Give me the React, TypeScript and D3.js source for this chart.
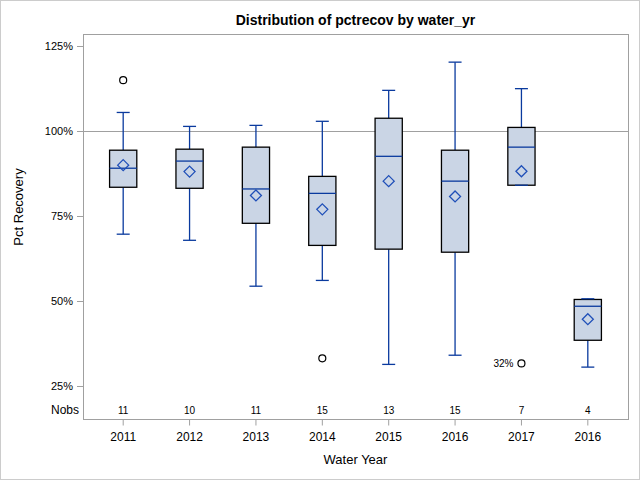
import * as React from "react";
import * as d3 from "d3";

// one entry per box (values in percent)
const yearLabels: string[] = ["2011", "2012", "2013", "2014", "2015", "2016", "2017", "2016"];
const nobs: number[] = [11, 10, 11, 15, 13, 15, 7, 4];
const whiskerLow: number[] = [69.8, 68.0, 54.5, 56.2, 31.5, 34.2, 84.2, 30.7];
const q1: number[] = [83.6, 83.3, 73.0, 66.5, 65.4, 64.5, 84.2, 38.6];
const median: number[] = [89.2, 91.3, 83.1, 81.8, 92.7, 85.4, 95.4, 48.6];
const q3: number[] = [94.5, 94.8, 95.4, 86.8, 103.9, 94.5, 101.2, 50.6];
const whiskerHigh: number[] = [105.6, 101.5, 101.8, 103.0, 112.1, 120.4, 112.6, 50.8];
const means: number[] = [90.1, 88.2, 81.2, 77.1, 85.4, 80.9, 88.3, 44.8];

const outlierIndex: number[] = [0, 3, 6];
const outlierValue: number[] = [115.1, 33.3, 31.8];
const outlierLabel: string[] = ["", "", "32%"];

const yTicks: number[] = [25, 50, 75, 100, 125];
const refValue: number = 100;

const W: number = 640;
const H: number = 480;
const frame = { left: 83, top: 34, right: 628, bottom: 419 };
const font: string = "'Liberation Sans', Arial, sans-serif";
const boxFill: string = "#cad5e5";
const blue: string = "#0a3a9e";
const grey: string = "#a0a0a0";

export default function App(): JSX.Element {
    const x = d3.scaleBand<number>()
        .domain(d3.range(yearLabels.length))
        .range([frame.left + 7, frame.right - 7]);
    const y = d3.scaleLinear()
        .domain([25, 125])
        .range([386.5, 46.5]);

    const cx = (i: number): number => (x(i) as number) + x.bandwidth() / 2;
    const boxW: number = x.bandwidth() * 0.41;
    const capW: number = 13;
    const dm: number = 5.5;

    return (
        <svg width={W} height={H} style={{ position: "absolute", left: 0, top: 0 }} fontFamily={font}>
            <rect x={0} y={0} width={W} height={H} fill="white" />
            <rect x={0.5} y={0.5} width={W - 1} height={H - 1} fill="none" stroke="#cccccc" />
            <text x={(frame.left + frame.right) / 2} y={20} dy="0.35em" textAnchor="middle" fontSize={14} fontWeight="bold">
                Distribution of pctrecov by water_yr
            </text>

            {/* y axis */}
            {yTicks.map((t) => (
                <g key={t}>
                    <line x1={frame.left - 6} x2={frame.left} y1={y(t)} y2={y(t)} stroke={grey} />
                    <text x={frame.left - 10} y={y(t)} dy="0.35em" textAnchor="end" fontSize={11}>
                        {`${t}%`}
                    </text>
                </g>
            ))}
            <text transform={`translate(23, 207) rotate(-90)`} textAnchor="middle" fontSize={13}>
                Pct Recovery
            </text>

            <line x1={frame.left} x2={frame.right} y1={y(refValue)} y2={y(refValue)} stroke={grey} />

            {/* boxes */}
            {yearLabels.map((lab, i) => {
                const c: number = cx(i);
                return (
                    <g key={i}>
                        <line x1={c} x2={c} y1={y(whiskerHigh[i])} y2={y(q3[i])} stroke={blue} strokeWidth={1.3} />
                        <line x1={c} x2={c} y1={y(q1[i])} y2={y(whiskerLow[i])} stroke={blue} strokeWidth={1.3} />
                        <rect x={c - boxW / 2} y={y(q3[i])} width={boxW} height={y(q1[i]) - y(q3[i])}
                            fill={boxFill} stroke="black" strokeWidth={1.3} />
                        <line x1={c - capW / 2} x2={c + capW / 2} y1={y(whiskerHigh[i])} y2={y(whiskerHigh[i])}
                            stroke={blue} strokeWidth={1.3} />
                        <line x1={c - capW / 2} x2={c + capW / 2} y1={y(whiskerLow[i])} y2={y(whiskerLow[i])}
                            stroke={blue} strokeWidth={1.3} />
                        <line x1={c - boxW / 2} x2={c + boxW / 2} y1={y(median[i])} y2={y(median[i])}
                            stroke={blue} strokeWidth={1.3} />
                        <path d={`M${c},${y(means[i]) - dm}L${c + dm},${y(means[i])}L${c},${y(means[i]) + dm}L${c - dm},${y(means[i])}Z`}
                            fill="none" stroke="#1f4fb8" strokeWidth={1.3} />
                    </g>
                );
            })}

            {outlierIndex.map((idx, k) => (
                <g key={k}>
                    <circle cx={cx(idx)} cy={y(outlierValue[k])} r={3.5} fill="none" stroke="black" strokeWidth={1.2} />
                    {outlierLabel[k] !== "" && (
                        <text x={cx(idx) - 8} y={y(outlierValue[k])} dy="0.35em" textAnchor="end" fontSize={10}>
                            {outlierLabel[k]}
                        </text>
                    )}
                </g>
            ))}

            <rect x={frame.left + 0.5} y={frame.top + 0.5} width={frame.right - frame.left} height={frame.bottom - frame.top}
                fill="none" stroke={grey} />

            {/* nobs row */}
            <text x={frame.left - 4} y={410} dy="0.35em" textAnchor="end" fontSize={12}>Nobs</text>
            {nobs.map((n, i) => (
                <text key={i} x={cx(i)} y={410} dy="0.35em" textAnchor="middle" fontSize={10}>{n}</text>
            ))}

            {/* x axis */}
            {yearLabels.map((lab, i) => (
                <g key={i}>
                    <line x1={cx(i)} x2={cx(i)} y1={frame.bottom + 0.5} y2={frame.bottom + 6.5} stroke={grey} />
                    <text x={cx(i)} y={437} dy="0.35em" textAnchor="middle" fontSize={12}>{lab}</text>
                </g>
            ))}
            <text x={(frame.left + frame.right) / 2} y={459} dy="0.35em" textAnchor="middle" fontSize={13}>
                Water Year
            </text>
        </svg>
    );
}
